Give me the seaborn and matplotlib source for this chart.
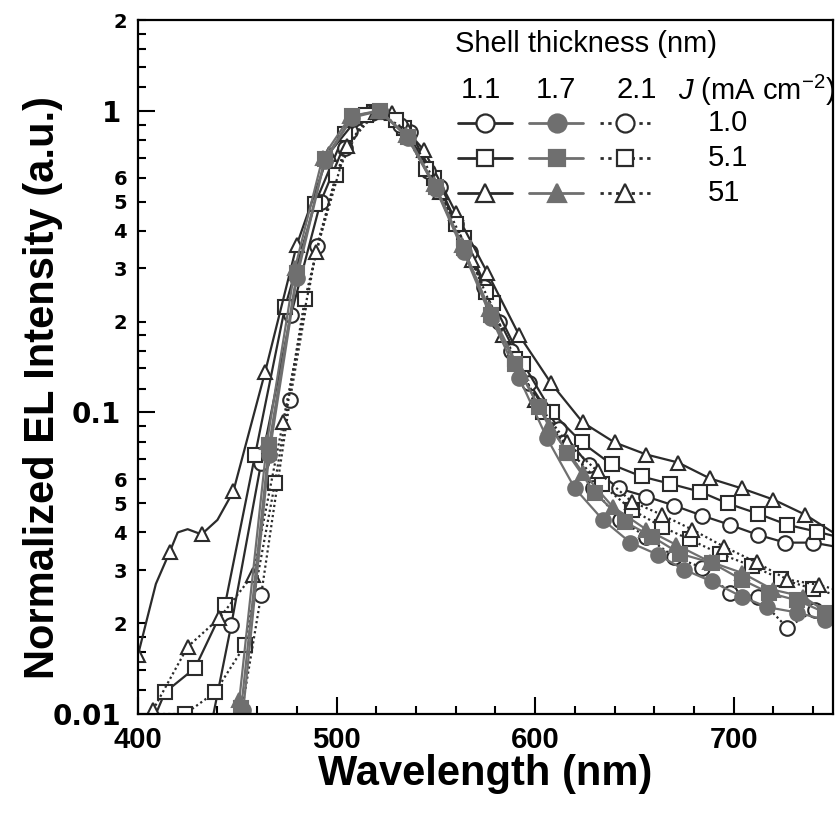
import matplotlib
matplotlib.use("Agg")
import matplotlib.pyplot as plt
import seaborn as sns
import pandas as pd

# ---------------- data ----------------
shells = ["1.1", "1.7", "2.1"]
currents = ["1.0", "5.1", "51"]

# shell 1.1 nm
wl_11_10 = [438, 447, 462, 477, 492, 507, 522, 537, 552, 567, 582, 597, 612, 627, 642, 656, 670, 684, 698, 712, 726, 740, 750]
el_11_10 = [0.0100, 0.0198, 0.068, 0.21, 0.50, 0.86, 1.0, 0.85, 0.56, 0.34, 0.20, 0.125, 0.088, 0.067, 0.056, 0.0526, 0.0491, 0.0455, 0.0424, 0.0393, 0.037, 0.037, 0.036]
wl_11_51 = [409, 413.6, 428.7, 443.8, 459, 474, 489, 504, 519, 534, 549, 564, 579, 594, 608.5, 623.5, 638.5, 653.6, 668, 683, 697, 712, 727, 742, 750]
el_11_51 = [0.0100, 0.0118, 0.0142, 0.023, 0.0725, 0.223, 0.49, 0.84, 0.99, 0.88, 0.60, 0.38, 0.23, 0.145, 0.100, 0.0795, 0.0672, 0.0613, 0.058, 0.0546, 0.0499, 0.0462, 0.0424, 0.0402, 0.039]
wl_11_510 = [400, 404, 409, 416, 420, 425, 432, 440, 448, 464, 480, 496, 512, 528, 544, 560, 576, 592, 608, 624, 640, 656, 672, 688, 704, 720, 736, 750]
el_11_510 = [0.0157, 0.020, 0.027, 0.0345, 0.040, 0.041, 0.0394, 0.044, 0.0547, 0.136, 0.36, 0.72, 0.97, 0.98, 0.74, 0.46, 0.29, 0.18, 0.125, 0.0926, 0.0795, 0.0725, 0.0682, 0.0604, 0.056, 0.0514, 0.0458, 0.040]

# shell 1.7 nm
wl_17_10 = [453, 466, 480, 494, 508, 522, 536, 550, 564, 578, 592, 606, 620, 634, 648, 662, 675, 689, 704, 717, 732, 746, 750]
el_17_10 = [0.0103, 0.072, 0.28, 0.68, 0.95, 1.0, 0.81, 0.55, 0.34, 0.205, 0.13, 0.082, 0.056, 0.0441, 0.037, 0.0337, 0.0301, 0.0275, 0.0245, 0.0226, 0.0217, 0.0205, 0.021]
wl_17_51 = [452, 466, 480, 494, 508, 522, 536, 550, 564, 578, 590, 602, 616, 630, 645, 659, 673, 689, 704, 718, 732, 746, 750]
el_17_51 = [0.0105, 0.078, 0.29, 0.69, 0.96, 1.0, 0.82, 0.56, 0.35, 0.21, 0.145, 0.104, 0.0736, 0.0542, 0.0434, 0.0387, 0.034, 0.0317, 0.0279, 0.0252, 0.0238, 0.0217, 0.022]
wl_17_510 = [451, 465, 479, 493, 507, 521, 535, 549, 563, 577, 593, 607, 624, 639, 656, 671, 688, 704, 720, 735, 747, 750]
el_17_510 = [0.0111, 0.080, 0.30, 0.70, 0.96, 1.0, 0.83, 0.57, 0.36, 0.22, 0.135, 0.0898, 0.0632, 0.0487, 0.0409, 0.0364, 0.032, 0.0294, 0.0258, 0.0245, 0.0217, 0.022]

# shell 2.1 nm
wl_21_10 = [452, 462, 476.5, 490, 504, 518, 532, 546, 560, 574, 588, 602, 616, 629, 642.6, 656, 670, 684, 698, 712, 727, 741, 750]
el_21_10 = [0.0100, 0.0248, 0.110, 0.356, 0.75, 0.98, 0.90, 0.63, 0.42, 0.26, 0.16, 0.105, 0.075, 0.056, 0.0441, 0.0387, 0.0332, 0.0306, 0.0252, 0.0245, 0.0193, 0.0222, 0.021]
wl_21_51 = [410, 423.7, 438.8, 453.8, 469, 484, 499.6, 515, 530, 545, 560, 575, 590, 604, 618, 633.5, 648.6, 663.7, 677.8, 693, 709, 724, 740, 750]
el_21_51 = [0.0100, 0.0100, 0.0118, 0.0169, 0.0585, 0.237, 0.612, 0.97, 0.93, 0.64, 0.42, 0.25, 0.15, 0.100, 0.0736, 0.0577, 0.0476, 0.0418, 0.0379, 0.034, 0.031, 0.028, 0.026, 0.025]
wl_21_510 = [407.5, 425, 441, 458, 473, 489.6, 505, 520, 536, 552, 568, 584, 600, 616, 631.5, 648.6, 663.7, 679, 695, 711.5, 727, 743, 750]
el_21_510 = [0.0103, 0.0167, 0.0208, 0.029, 0.0926, 0.34, 0.765, 0.99, 0.86, 0.54, 0.32, 0.18, 0.11, 0.0795, 0.0637, 0.0506, 0.0458, 0.0409, 0.0359, 0.0318, 0.0279, 0.0268, 0.026]

# axis ticks
x_major = [400, 500, 600, 700]
y_major = [0.01, 0.1, 1]
y_major_labels = ["0.01", "0.1", "1"]
y_minor = [0.012, 0.014, 0.016, 0.018, 0.02, 0.03, 0.04, 0.05, 0.06, 0.07, 0.08, 0.09,
           0.12, 0.14, 0.16, 0.18, 0.2, 0.3, 0.4, 0.5, 0.6, 0.7, 0.8, 0.9,
           1.2, 1.4, 1.6, 1.8, 2]
y_minor_labels = ["", "", "", "", "2", "3", "4", "5", "6", "", "", "",
                  "", "", "", "", "2", "3", "4", "5", "6", "", "", "",
                  "", "", "", "", "2"]

# ---------------- style ----------------
sns.set_style("ticks")
plt.rcParams["font.family"] = ["Liberation Sans", "DejaVu Sans"]
plt.rcParams["mathtext.fontset"] = "custom"
plt.rcParams["mathtext.rm"] = "Liberation Sans"
plt.rcParams["mathtext.it"] = "Liberation Sans:italic"
plt.rcParams["text.color"] = "black"
plt.rcParams["axes.labelcolor"] = "black"
plt.rcParams["xtick.color"] = "black"
plt.rcParams["ytick.color"] = "black"
plt.rcParams["axes.edgecolor"] = "black"

DARK = "#2b2b2b"
GRAY = "#6f6f6f"
DOT = (0, (1.0, 1.3))

series = [
    # (wl, el, shell, J, marker, line colour, linestyle, face, edge, markevery)
    (wl_11_10, el_11_10, "1.1", "1.0", "o", DARK, "-", "white", DARK, (1, 1)),
    (wl_11_51, el_11_51, "1.1", "5.1", "s", DARK, "-", "white", DARK, (1, 1)),
    (wl_11_510, el_11_510, "1.1", "51", "^", DARK, "-", "white", DARK, [0, 3, 6] + list(range(8, 27))),
    (wl_21_10, el_21_10, "2.1", "1.0", "o", DARK, DOT, "white", DARK, (1, 1)),
    (wl_21_51, el_21_51, "2.1", "5.1", "s", DARK, DOT, "white", DARK, (1, 1)),
    (wl_21_510, el_21_510, "2.1", "51", "^", DARK, DOT, "white", DARK, (0, 1)),
    (wl_17_10, el_17_10, "1.7", "1.0", "o", GRAY, "-", GRAY, GRAY, (0, 1)),
    (wl_17_51, el_17_51, "1.7", "5.1", "s", GRAY, "-", GRAY, GRAY, (0, 1)),
    (wl_17_510, el_17_510, "1.7", "51", "^", GRAY, "-", GRAY, GRAY, (0, 1)),
]
msize = {"o": 10.5, "s": 9.5, "^": 10.5}

fig = plt.figure(figsize=(8.36, 8.25), dpi=100)
ax = fig.add_axes([138 / 836, 1 - 714 / 825, 695 / 836, 694 / 825])

for wl, el, sh, j, mk, lc, ls, fc, ec, me in series:
    n = len(wl)
    if isinstance(me, tuple):
        idx = list(range(me[0], n - 1))
    else:
        idx = me
    df = pd.DataFrame({"wl": wl, "el": el})
    sns.lineplot(data=df, x="wl", y="el", ax=ax, color=lc, linestyle=ls, lw=1.6,
                 marker=mk, markersize=msize[mk], markerfacecolor=fc,
                 markeredgecolor=ec, markeredgewidth=1.5, markevery=idx,
                 legend=False, estimator=None, sort=False)

ax.set_yscale("log")
ax.set_xlim(400, 750)
ax.set_ylim(0.01, 2)

ax.set_xticks(x_major)
ax.set_xticklabels([str(v) for v in x_major])
ax.set_xticks(list(range(420, 750, 20)), minor=True)
ax.set_yticks(y_major)
ax.set_yticklabels(y_major_labels)
ax.set_yticks(y_minor, minor=True)
ax.set_yticklabels(y_minor_labels, minor=True)

ax.tick_params(axis="both", which="both", direction="in", width=1.5, color="black",
               labelcolor="black", top=False, right=False)
ax.tick_params(axis="x", which="major", length=12, pad=9)
ax.tick_params(axis="x", which="minor", length=6)
ax.tick_params(axis="y", which="major", length=12, pad=12)
ax.tick_params(axis="y", which="minor", length=6, pad=8)

for t in ax.get_xticklabels():
    t.set_fontweight("bold")
    t.set_fontsize(21)
for t in ax.get_yticklabels():
    t.set_fontfamily("DejaVu Sans")
    t.set_fontweight("bold")
    t.set_fontsize(20)
for t in ax.get_yticklabels(minor=True):
    t.set_fontfamily("DejaVu Sans")
    t.set_fontweight("bold")
    t.set_fontsize(14)

for s in ax.spines.values():
    s.set_linewidth(1.6)
    s.set_color("black")
    s.set_visible(True)

ax.set_xlabel("Wavelength (nm)", fontweight="bold", fontsize=30, color="black")
ax.set_ylabel("Normalized EL Intensity (a.u.)", fontweight="bold", fontsize=30, color="black")
ax.xaxis.set_label_coords(0.5, -0.058)
ax.yaxis.set_label_coords(-0.108, 0.47)

# ---------------- legend (table-like key) ----------------
tr = ax.transAxes
ax.text(0.456, 0.965, "Shell thickness (nm)", transform=tr, fontsize=21, ha="left", va="center")
col_mid = {"1.1": 0.4993, "1.7": 0.6029, "2.1": 0.7007}
col_head = {"1.1": 0.4935, "1.7": 0.601, "2.1": 0.718}
col_span = {"1.1": (0.4604, 0.538), "1.7": (0.5626, 0.6403), "2.1": (0.6647, 0.741)}
for sh in shells:
    ax.text(col_head[sh], 0.899, sh, transform=tr, fontsize=21, ha="center", va="center")
ax.text(0.777, 0.899, "$J$ (mA cm$^{\\mathregular{-2}}$)", transform=tr, fontsize=21,
        ha="left", va="center", clip_on=False)
row_y = {"1.0": 0.8516, "5.1": 0.801, "51": 0.7507}
for j in currents:
    ax.text(0.82, row_y[j], j, transform=tr, fontsize=21, ha="left", va="center")
for wl, el, sh, j, mk, lc, ls, fc, ec, me in series:
    x0, x1 = col_span[sh]
    lstyle = (0, (1.2, 1.6)) if ls != "-" else "-"
    ax.plot([x0, x1], [row_y[j], row_y[j]], transform=tr, color=lc, linestyle=lstyle,
            lw=2.0, clip_on=False)
    ax.plot([col_mid[sh]], [row_y[j]], transform=tr, marker=mk, markersize=msize[mk] + 2.5,
            markerfacecolor=fc, markeredgecolor=ec, markeredgewidth=1.6, linestyle="none",
            clip_on=False)

fig.savefig("out.png", dpi=100)
